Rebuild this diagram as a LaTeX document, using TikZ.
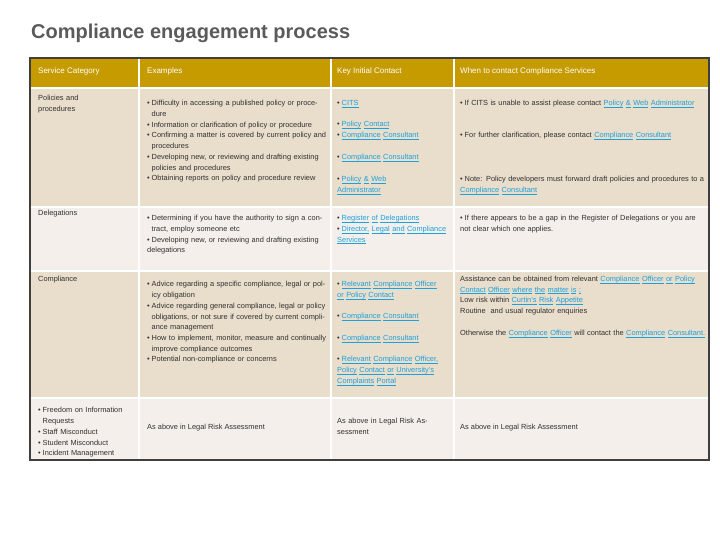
\documentclass[tikz,border=0pt]{standalone}
\usepackage{fontspec}
\setmainfont{Liberation Sans}
\definecolor{gold}{HTML}{C59B00}
\definecolor{tanA}{HTML}{E9DDCC}
\definecolor{tanB}{HTML}{F4EFEA}
\definecolor{frame}{HTML}{3F3F3F}
\definecolor{lnk}{HTML}{1BA1DB}
\definecolor{txt}{HTML}{303030}
\definecolor{ttl}{HTML}{5A5A5A}
\def\lkW#1{\underline{\smash{#1}}}
\def\lkA#1 #2\lkend{\lkW{#1}\ifx\relax#2\relax\else\ \lkA#2\lkend\fi}
\newcommand\lk[1]{{\color{lnk}\lkA#1 \lkend}}
\newcommand\bitem{\par\noindent\hangindent=4.5pt\hangafter=1\makebox[4.5pt][l]{•}}
\begin{document}
\begin{tikzpicture}[x=1pt,y=-1pt,
  cell/.style={anchor=north west,inner sep=0pt,align=left,font=\fontsize{7.4}{10.7}\selectfont,text=txt},
  hd/.style={anchor=west,inner sep=0pt,font=\fontsize{8}{10}\selectfont,text=white}]
\useasboundingbox (0,0) rectangle (720,540);
\node[anchor=west,inner sep=0pt,font=\bfseries\fontsize{20}{24}\selectfont,text=ttl] (title) at (31,33) {Compliance engagement process};
% backgrounds
\fill[gold] (30,58) rectangle (709,88);
\fill[tanA] (30,88) rectangle (709,207);
\fill[tanB] (30,207) rectangle (709,271);
\fill[tanA] (30,271) rectangle (709,398);
\fill[tanB] (30,398) rectangle (709,460);
\foreach \y in {88,207,271,398} \draw[white,line width=1.5pt] (30,\y) -- (709,\y);
\foreach \x in {139,331,454} \draw[white,line width=1.5pt] (\x,58) -- (\x,460);
\draw[frame,line width=2pt] (30,58) rectangle (709,460);
% header
\node[hd] (h1) at (38,71) {Service Category};
\node[hd] (h2) at (147,71) {Examples};
\node[hd] (h3) at (337,71) {Key Initial Contact};
\node[hd] (h4) at (460,71) {When to contact Compliance Services};
% row 1
\node[cell,text width=95pt] (c11) at (38,95) {Policies and\\procedures};
\node[cell,text width=182pt] (c12) at (147,95) {\bitem Difficulty in accessing a published policy or procedure
\bitem Information or clarification of policy or procedure
\bitem Confirming a matter is covered by current policy and procedures
\bitem Developing new, or reviewing and drafting existing policies and procedures
\bitem Obtaining reports on policy and procedure review};
\node[cell,text width=112pt] (c13a) at (337,95) {\bitem\lk{CITS}};
\node[cell,text width=112pt] (c13b) at (337,116) {\bitem\lk{Policy Contact}\bitem\lk{Compliance Consultant}};
\node[cell,text width=112pt] (c13c) at (337,149) {\bitem\lk{Compliance Consultant}};
\node[cell,text width=80pt] (c13d) at (337,171) {\bitem\lk{Policy \& Web Administrator}};
\node[cell,text width=245pt] (c14a) at (460,95) {\bitem If CITS is unable to assist please contact \lk{Policy \& Web Administrator}};
\node[cell,text width=240pt] (c14b) at (460,127) {\bitem For further clarification, please contact \lk{Compliance Consultant}};
\node[cell,text width=245pt] (c14c) at (460,171) {\bitem Note: Policy developers must forward draft policies and procedures to a \lk{Compliance Consultant}};
% row 2
\node[cell] (c21) at (38,210) {Delegations};
\node[cell,text width=182pt] (c22) at (147,210) {\bitem Determining if you have the authority to sign a contract, employ someone etc
\bitem Developing new, or reviewing and drafting existing delegations};
\node[cell,text width=112pt] (c23) at (337,210) {\bitem\lk{Register of Delegations}\bitem\lk{Director, Legal and Compliance Services}};
\node[cell,text width=245pt] (c24) at (460,210) {\bitem If there appears to be a gap in the Register of Delegations or you are not clear which one applies.};
% row 3
\node[cell] (c31) at (38,276) {Compliance};
\node[cell,text width=182pt] (c32) at (147,276) {\bitem Advice regarding a specific compliance, legal or policy obligation
\bitem Advice regarding general compliance, legal or policy obligations, or not sure if covered by current compliance management
\bitem How to implement, monitor, measure and continually improve compliance outcomes
\bitem Potential non-compliance or concerns};
\node[cell,text width=108pt] (c33a) at (337,276) {\bitem\lk{Relevant Compliance Officer or Policy Contact}};
\node[cell,text width=112pt] (c33b) at (337,308) {\bitem\lk{Compliance Consultant}};
\node[cell,text width=112pt] (c33c) at (337,330) {\bitem\lk{Compliance Consultant}};
\node[cell,text width=108pt] (c33d) at (337,351) {\bitem\lk{Relevant Compliance Officer, Policy Contact or University's Complaints Portal}};
\node[cell,text width=245pt] (c34a) at (460,276) {Assistance can be obtained from relevant \lk{Compliance Officer or Policy Contact Officer where the matter is :}\\
Low risk within \lk{Curtin's Risk Appetite}\\Routine\ \ and usual regulator enquiries};
\node[cell,text width=245pt] (c34b) at (460,330) {Otherwise the \lk{Compliance Officer} will contact the \lk{Compliance Consultant.}};
% row 4
\node[cell,text width=95pt] (c41) at (38,402) {\bitem Freedom on Information Requests\bitem Staff Misconduct\bitem Student Misconduct\bitem Incident Management};
\node[cell] (c42) at (147,424) {As above in Legal Risk Assessment};
\node[cell,text width=105pt] (c43) at (337,418) {As above in Legal Risk Assessment};
\node[cell] (c44) at (460,424) {As above in Legal Risk Assessment};
\end{tikzpicture}
\end{document}
